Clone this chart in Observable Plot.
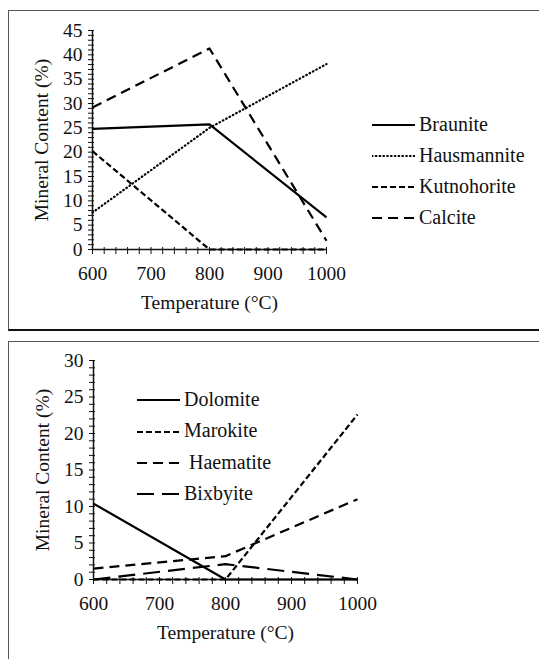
<!DOCTYPE html>
<html>
<head>
<meta charset="utf-8">
<script src="https://cdn.jsdelivr.net/npm/d3@7"></script>
<script src="https://cdn.jsdelivr.net/npm/@observablehq/plot@0.6"></script>
<style>
  html, body { margin: 0; padding: 0; background: #fff; }
  body { width: 539px; height: 659px; overflow: hidden; position: relative;
         font-family: "Liberation Serif", "Times New Roman", serif; color: #111; }
  .panel { position: absolute; left: 8px; width: 560px; box-sizing: border-box; border: 1.5px solid #555; }
  #panel1 { top: 10px; height: 321px; border-bottom: 2.5px solid #111; }
  #panel2 { top: 341px; height: 340px; }
  .chart { position: absolute; left: 0; }
  .row { position: absolute; display: flex; align-items: center; height: 22px; white-space: pre; font-size: 20px; }
  .row svg { display: block; margin-right: 4px; }
</style>
</head>
<body>
<div class="panel" id="panel1"></div>
<div class="panel" id="panel2"></div>
<div class="chart" id="chart1" style="top:0px"></div>
<div class="chart" id="chart2" style="top:330px"></div>
<div id="legend1"></div>
<div id="legend2"></div>
<script>
// Heating temperatures (°C)
const temperature = [600, 800, 1000];

// Upper panel: mineral content (%)
const braunite    = [24.8, 25.7, 6.6];
const hausmannite = [7.6, 25.0, 38.1];
const kutnohorite = [20.2, 0, 0];
const calcite     = [29.2, 41.3, 1.8];

// Lower panel: mineral content (%)
const dolomite  = [10.4, 0, 0];
const marokite  = [0, 0, 22.6];
const haematite = [1.5, 3.2, 11.0];
const bixbyite  = [0, 2.1, 0];

const xTicks = [600, 700, 800, 900, 1000];
const upperTicks = [0, 5, 10, 15, 20, 25, 30, 35, 40, 45];
const lowerTicks = [0, 5, 10, 15, 20, 25, 30];
const xTitle = "Temperature (°C)";
const yTitle = "Mineral Content (%)";

// Line styles: dash pattern and cap
const SOLID = {dash: null, cap: "butt"};
const DOTTED = {dash: "0.6,3.2", cap: "round"};
const SHORT_DASH = {dash: "6,3", cap: "butt"};
const DASH = {dash: "10,6", cap: "butt"};
const LONG_DASH = {dash: "17,8", cap: "butt"};

const upperSeries = [
  {name: "Braunite", values: braunite, style: SOLID},
  {name: "Hausmannite", values: hausmannite, style: DOTTED},
  {name: "Kutnohorite", values: kutnohorite, style: SHORT_DASH},
  {name: "Calcite", values: calcite, style: DASH}
];
const lowerSeries = [
  {name: "Dolomite", values: dolomite, style: SOLID},
  {name: "Marokite", values: marokite, style: SHORT_DASH},
  {name: " Haematite", values: haematite, style: DASH},
  {name: "Bixbyite", values: bixbyite, style: LONG_DASH}
];

const FONT = '"Liberation Serif", "Times New Roman", serif';

function chart(series, yTicks, m) {
  const yMax = yTicks[yTicks.length - 1];
  return Plot.plot({
    width: 539, height: m.height,
    marginLeft: m.left, marginRight: m.right, marginTop: m.top, marginBottom: m.bottom,
    x: {domain: [600, 1000]},
    y: {domain: [0, yMax]},
    style: {fontFamily: FONT, fontSize: "19.5px", color: "#111", background: "transparent", overflow: "visible"},
    marks: [
      // minor ticks every unit on the y axis, every 20 °C on the x axis
      Plot.axisY(d3.range(0, yMax + 1, 1), {tickSize: 6, dx: 2, tickFormat: () => "", label: null, strokeWidth: 1}),
      Plot.axisX(d3.range(600, 1001, 20), {tickSize: 7, dy: -2, tickFormat: () => "", label: null, strokeWidth: 1}),
      // labelled ticks
      Plot.axisY(yTicks, {tickSize: 0, tickPadding: 10, label: null, fontSize: 19.5, fill: "#111", tickFormat: d => String(d)}),
      Plot.axisX(xTicks, {tickSize: 0, tickPadding: 17, label: null, fontSize: 19.5, fill: "#111", tickFormat: d => String(d)}),
      // axis lines
      Plot.ruleX([600], {stroke: "#111", strokeWidth: 1.5}),
      Plot.ruleY([0], {stroke: "#111", strokeWidth: 1.5}),
      // series
      ...series.map(s => Plot.line(s.values, {
        x: (d, i) => temperature[i], y: d => d,
        stroke: "#000", strokeWidth: 2.2,
        strokeDasharray: s.style.dash, strokeLinecap: s.style.cap
      })),
      // axis titles
      Plot.text([xTitle], {frameAnchor: "bottom", dy: 53, lineAnchor: "middle", textAnchor: "middle", fontSize: 19.5, fill: "#111"}),
      Plot.text([yTitle], {frameAnchor: "left", rotate: -90, dx: -51, textAnchor: "middle", lineAnchor: "middle", fontSize: 19.5, fill: "#111"})
    ]
  });
}

document.getElementById("chart1").append(
  chart(upperSeries, upperTicks, {height: 330, left: 92, right: 213, top: 30, bottom: 81})
);
document.getElementById("chart2").append(
  chart(lowerSeries, lowerTicks, {height: 329, left: 93, right: 182, top: 30, bottom: 80})
);

function legend(container, series, left, rows) {
  const root = d3.select(container);
  series.forEach((s, i) => {
    const row = root.append("div").attr("class", "row")
      .style("left", left + "px").style("top", (rows[i] - 12) + "px");
    const svg = row.append("svg").attr("width", 43).attr("height", 22);
    svg.append("line").attr("x1", 0).attr("x2", 43).attr("y1", 12).attr("y2", 12)
      .attr("stroke", "#000").attr("stroke-width", 2.2)
      .attr("stroke-dasharray", s.style.dash)
      .attr("stroke-linecap", s.style.cap);
    row.append("span").text(s.name);
  });
}
legend("#legend1", upperSeries, 372, [125, 156, 187, 218]);
legend("#legend2", lowerSeries, 137, [400, 431.5, 463, 494]);
</script>
</body>
</html>
